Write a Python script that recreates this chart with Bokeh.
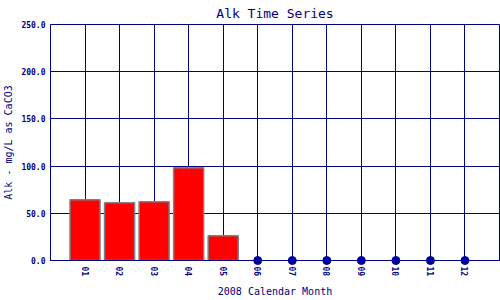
import math
from bokeh.plotting import figure
from bokeh.models import FixedTicker, PrintfTickFormatter, Range1d, ColumnDataSource
from bokeh.embed import file_html
from bokeh.resources import INLINE

# ---- data ----
month_labels = ["01", "02", "03", "04", "05", "06", "07", "08", "09", "10", "11", "12"]
month_pos = [1, 2, 3, 4, 5, 6, 7, 8, 9, 10, 11, 12]
bar_months = [1, 2, 3, 4, 5]
alk_values = [64.3, 61.1, 62.2, 98.2, 26.2]
nodata_months = [6, 7, 8, 9, 10, 11, 12]
nodata_values = [0, 0, 0, 0, 0, 0, 0]
y_ticks = [0, 50, 100, 150, 200, 250]

NAVY = "#000080"
MONO = "DejaVu Sans Mono"

p = figure(width=500, height=300, output_backend="svg", toolbar_location=None,
           x_range=Range1d(0, 13), y_range=Range1d(0, 250),
           title="Alk Time Series",
           min_border_left=50, min_border_right=1, min_border_top=24, min_border_bottom=40)

p.title.align = "center"
p.title.text_font = MONO
p.title.text_font_size = "13px"
p.title.text_font_style = "normal"
p.title.text_color = NAVY
p.title.standoff = 7

p.background_fill_color = "white"
p.border_fill_color = "white"
p.outline_line_color = NAVY
p.outline_line_width = 1
p.outline_line_alpha = 1

bars = ColumnDataSource(dict(x=bar_months, top=alk_values))
p.vbar(x="x", top="top", bottom=0, width=0.87, source=bars,
       fill_color="red", line_color="#808080", line_width=1.5)

pts = ColumnDataSource(dict(x=nodata_months, y=nodata_values))
p.scatter(x="x", y="y", source=pts, size=8, fill_color="#0000a0",
          line_color="#0000a0", level="overlay")

p.xaxis.ticker = FixedTicker(ticks=month_pos)
p.xaxis.major_label_overrides = {m: l for m, l in zip(month_pos, month_labels)}
p.xaxis.major_label_orientation = "vertical"
p.yaxis.ticker = FixedTicker(ticks=y_ticks)
p.yaxis.formatter = PrintfTickFormatter(format="%.1f")

for ax in (p.xaxis, p.yaxis):
    ax.axis_line_color = NAVY
    ax.axis_line_width = 1
    ax.major_tick_line_color = None
    ax.minor_tick_line_color = None
    ax.major_tick_in = 0
    ax.major_tick_out = 0
    ax.major_label_text_font = MONO
    ax.major_label_text_font_size = "8px"
    ax.major_label_text_font_style = "bold"
    ax.major_label_text_color = NAVY
    ax.axis_label_text_font = MONO
    ax.axis_label_text_font_size = "10px"
    ax.axis_label_text_font_style = "normal"
    ax.axis_label_text_color = NAVY

p.xaxis.axis_label = "2008 Calendar Month"
p.yaxis.axis_label = "Alk - mg/L as CaCO3"
p.xaxis.major_label_standoff = 6
p.yaxis.major_label_standoff = 5
p.xaxis.axis_label_standoff = 7
p.yaxis.axis_label_standoff = 4

p.grid.grid_line_color = NAVY
p.grid.grid_line_width = 1
p.grid.grid_line_alpha = 1

open("out.html", "w").write(file_html(p, INLINE))
